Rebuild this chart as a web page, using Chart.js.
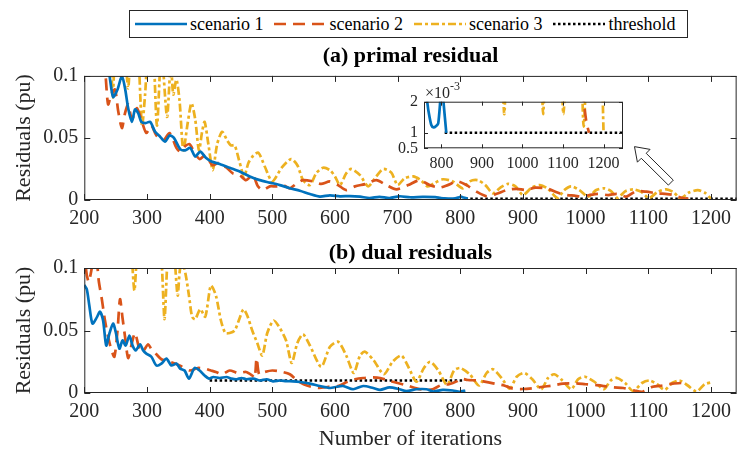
<!DOCTYPE html>
<html>
<head>
<meta charset="utf-8">
<script src="https://cdn.jsdelivr.net/npm/chart.js@4.4.1/dist/chart.umd.min.js"></script>
<style>
  html, body { margin: 0; padding: 0; background: #fff; width: 738px; height: 452px; overflow: hidden; }
  canvas { position: absolute; }
  #legend {
    position: absolute; left: 129px; top: 10px; width: 552px; height: 26px;
    border: 1px solid #262626; background: #fff;
    display: flex; align-items: center; padding-left: 5px; box-sizing: content-box;
    font: 18px 'Liberation Serif', 'Times New Roman', serif; color: #000;
  }
  #legend .it { display: flex; align-items: center; margin-right: 11px; white-space: nowrap; }
  #legend svg { margin-right: 3px; }
</style>
</head>
<body>
<canvas id="chart-a" width="738" height="452" style="left:0;top:0"></canvas>
<canvas id="chart-b" width="738" height="452" style="left:0;top:0"></canvas>
<canvas id="chart-zoom" width="290" height="120" style="left:370px;top:70px"></canvas>
<div id="legend"></div>

<script>
'use strict';
/* Residuales primal / dual — tres escenarios + umbral */

// ── Datos ([iteración, residual]) ─────────────────────
const xTicks = [200, 300, 400, 500, 600, 700, 800, 900, 1000, 1100, 1200];
const yTicks = [0, 0.05, 0.1];
const zoomXTicks = [800, 900, 1000, 1100, 1200];
const zoomYTicks = [0.0005, 0.001, 0.002];
const seriesNames = ['scenario 1', 'scenario 2', 'scenario 3', 'threshold'];

// (a) primal residual
const primal1 = [[200,0.2],[230,0.13],[240,0.101],[246,0.083],[253,0.089],[260,0.1],[265,0.09],[270,0.074],[276,0.063],[281,0.073],
  [286,0.07],[291,0.063],[298,0.062],[305,0.063],[313,0.055],[321,0.051],[329,0.047],[336,0.052],[343,0.05],[353,0.041],
  [361,0.04],[369,0.042],[377,0.035],[385,0.039],[394,0.034],[403,0.031],[416,0.029],[432,0.026],[448,0.023],[464,0.019],
  [480,0.016],[496,0.014],[512,0.012],[528,0.0095],[544,0.0075],[560,0.0048],[576,0.0027],[592,0.0038],[608,0.003],[624,0.0032],
  [640,0.0027],[655,0.0016],[671,0.0025],[687,0.0016],[703,0.003],[720,0.0022],[740,0.0025],[760,0.0023],[768,0.0017],[775,0.00125],
  [781,0.00117],[787,0.00122],[792,0.0013],[797,0.002],[801,0.0027],[805,0.002],[812,0.001]];
const primal2 = [[200,0.25],[228,0.13],[234,0.1],[238,0.077],[243,0.085],[249,0.089],[254,0.072],[260,0.058],[265,0.07],[270,0.077],
  [276,0.065],[284,0.074],[292,0.063],[299,0.054],[307,0.06],[315,0.052],[326,0.048],[336,0.054],[347,0.042],[353,0.039],
  [360,0.043],[368,0.045],[376,0.038],[384,0.033],[393,0.036],[405,0.028],[414,0.03],[427,0.026],[437,0.0215],[448,0.02],
  [458,0.016],[469,0.02],[477,0.011],[485,0.008],[496,0.011],[506,0.011],[517,0.012],[528,0.0094],[538,0.013],[549,0.016],
  [565,0.015],[578,0.013],[592,0.015],[605,0.012],[618,0.008],[632,0.011],[650,0.013],[666,0.016],[682,0.012],[698,0.0086],
  [717,0.012],[735,0.016],[751,0.012],[767,0.01],[780,0.012],[796,0.015],[810,0.012],[826,0.0067],[842,0.003],[858,0.005],
  [874,0.008],[890,0.009],[905,0.008],[920,0.01],[940,0.009],[955,0.006],[970,0.004],[982,0.0035],[995,0.0027],[1006,0.004],
  [1020,0.005],[1036,0.004],[1050,0.005],[1065,0.0027],[1080,0.007],[1097,0.0067],[1113,0.0054],[1130,0.0048],[1140,0.004],[1150,0.0022],
  [1157,0.0014],[1164,0.001]];
const primal3 = [[200,0.3],[238,0.2],[245,0.083],[251,0.14],[258,0.16],[264,0.13],[270,0.09],[276,0.14],[283,0.15],[292,0.06],
  [297,0.085],[303,0.13],[309,0.13],[316,0.06],[323,0.12],[332,0.067],[338,0.11],[342,0.085],[347,0.097],[352,0.08],
  [358,0.04],[365,0.062],[371,0.078],[377,0.065],[383,0.04],[388,0.055],[392,0.063],[398,0.045],[405,0.024],[412,0.045],
  [420,0.055],[428,0.048],[434,0.044],[440,0.044],[447,0.032],[455,0.019],[462,0.03],[470,0.036],[478,0.038],[488,0.027],
  [500,0.015],[515,0.026],[530,0.033],[540,0.028],[549,0.016],[560,0.012],[570,0.0215],[581,0.026],[592,0.024],[600,0.019],
  [608,0.012],[618,0.0215],[626,0.025],[640,0.02],[653,0.011],[666,0.019],[677,0.025],[690,0.022],[700,0.012],[711,0.0175],
  [725,0.019],[737,0.016],[748,0.011],[760,0.014],[772,0.0167],[788,0.015],[804,0.0094],[815,0.015],[828,0.016],[840,0.012],
  [852,0.0054],[864,0.01],[876,0.013],[888,0.011],[900,0.004],[914,0.01],[927,0.012],[940,0.009],[955,0.0016],[966,0.008],
  [977,0.011],[990,0.008],[1004,0.0027],[1017,0.008],[1030,0.0094],[1041,0.007],[1051,0.0016],[1063,0.007],[1076,0.0086],[1089,0.0065],
  [1101,0.0016],[1115,0.0065],[1129,0.0086],[1141,0.006],[1151,0.0012],[1165,0.006],[1179,0.008],[1190,0.006],[1200,0.001]];
const primalThr = [[808,0.001],[1250,0.001]];

// (b) dual residuals
const dual1 = [[200,0.0864],[204,0.083],[208,0.07],[213,0.0555],[220,0.0605],[225,0.065],[230,0.058],[235,0.038],[240,0.0475],[246,0.0555],
  [250,0.049],[256,0.0355],[261,0.042],[266,0.038],[272,0.046],[277,0.038],[282,0.034],[289,0.039],[294,0.034],[299,0.0315],
  [307,0.029],[315,0.022],[323,0.0235],[331,0.0275],[339,0.022],[347,0.0235],[353,0.0195],[360,0.018],[367,0.0115],[376,0.02],
  [384,0.018],[392,0.014],[399,0.0115],[406,0.0128],[416,0.012],[427,0.0128],[435,0.0115],[443,0.011],[451,0.012],[459,0.011],
  [470,0.0115],[480,0.01],[491,0.011],[501,0.0093],[512,0.01],[522,0.0095],[533,0.0093],[544,0.0088],[560,0.0075],[576,0.0056],
  [592,0.004],[603,0.005],[613,0.0056],[629,0.003],[645,0.0056],[661,0.004],[672,0.0025],[687,0.0045],[703,0.003],[714,0.0015],
  [730,0.003],[746,0.003],[757,0.0012],[772,0.0025],[788,0.002],[799,0.001],[808,0.002]];
const dual2 = [[200,0.13],[203,0.098],[207,0.089],[212,0.1],[218,0.115],[223,0.09],[228,0.075],[233,0.058],[238,0.045],[243,0.035],
  [248,0.029],[253,0.05],[257,0.075],[261,0.06],[265,0.045],[270,0.028],[276,0.04],[281,0.048],[288,0.035],[293,0.033],
  [302,0.039],[307,0.035],[315,0.031],[323,0.027],[336,0.025],[352,0.022],[368,0.018],[381,0.02],[392,0.0195],[402,0.018],
  [410,0.0168],[420,0.015],[432,0.018],[445,0.016],[458,0.0168],[468,0.014],[472,0.012],[475,0.028],[479,0.015],[488,0.0168],
  [500,0.018],[515,0.017],[528,0.015],[540,0.01],[550,0.007],[562,0.005],[575,0.004],[590,0.005],[605,0.0055],[620,0.009],
  [632,0.011],[645,0.012],[660,0.0125],[672,0.012],[688,0.0095],[700,0.008],[715,0.006],[728,0.004],[742,0.0025],[756,0.003],
  [770,0.0065],[782,0.007],[795,0.0095],[800,0.0115],[812,0.0104],[828,0.01],[845,0.0085],[860,0.007],[870,0.006],[884,0.0035],
  [900,0.0032],[915,0.0038],[929,0.0048],[948,0.006],[964,0.0075],[985,0.0077],[1000,0.007],[1015,0.0065],[1030,0.0055],[1044,0.0045],
  [1060,0.004],[1078,0.002],[1091,0.001],[1107,0.005],[1123,0.006],[1139,0.0075],[1153,0.008],[1160,0.008]];
const dual3 = [[200,0.3],[270,0.2],[276,0.11],[280,0.082],[285,0.12],[300,0.2],[318,0.15],[324,0.1],[328,0.059],[332,0.1],
  [338,0.15],[344,0.11],[349,0.078],[353,0.1],[358,0.102],[362,0.094],[367,0.078],[372,0.061],[377,0.059],[385,0.067],
  [393,0.061],[402,0.086],[410,0.078],[418,0.058],[425,0.048],[432,0.048],[440,0.05],[448,0.06],[454,0.067],[460,0.062],
  [468,0.05],[476,0.04],[484,0.03],[492,0.048],[502,0.058],[512,0.052],[522,0.042],[531,0.024],[540,0.04],[549,0.047],
  [560,0.038],[578,0.021],[592,0.037],[605,0.041],[618,0.03],[630,0.016],[640,0.03],[648,0.033],[662,0.026],[678,0.015],
  [692,0.025],[706,0.03],[718,0.02],[730,0.009],[742,0.02],[752,0.025],[765,0.018],[779,0.0065],[790,0.018],[800,0.02],
  [815,0.015],[830,0.006],[842,0.016],[852,0.019],[866,0.012],[879,0.0035],[890,0.013],[902,0.016],[915,0.011],[929,0.003],
  [940,0.012],[950,0.015],[963,0.01],[977,0.003],[988,0.011],[999,0.013],[1014,0.009],[1029,0.003],[1040,0.01],[1050,0.012],
  [1063,0.008],[1076,0.0015],[1090,0.008],[1102,0.01],[1114,0.007],[1126,0.0025],[1138,0.008],[1150,0.01],[1163,0.006],[1177,0.0012],
  [1190,0.007],[1200,0.0085]];
const dualThr = [[400,0.01],[805,0.01]];

// flecha que señala el recuadro (en unidades de datos del gráfico a)
const arrowTail = [1136, 0.014];
const arrowHead = [1078, 0.043];

// ── Estilo ───────────────────────────────────────────
const SERIF = "'Liberation Serif', 'Times New Roman', serif";
const INK = '#262626';
const estilos = [
  { color: '#0072BD', dash: [], width: 2.7, tension: 0.25 },
  { color: '#D95319', dash: [12, 7], width: 2.7, tension: 0.25 },
  { color: '#EDB120', dash: [8, 3, 3, 3], width: 2.7, tension: 0.25 },
  { color: '#000000', dash: [2.5, 2.5], width: 2.6, tension: 0 },
];

Chart.defaults.font.family = SERIF;
Chart.defaults.color = INK;

const pts = arr => arr.map(([x, y]) => ({ x, y }));
const datasets = series => series.map((s, i) => ({
  label: seriesNames[i],
  data: pts(s),
  borderColor: estilos[i].color,
  borderWidth: estilos[i].width,
  borderDash: estilos[i].dash,
  tension: estilos[i].tension,
  pointRadius: 0,
  fill: false,
  clip: 0,
}));

const fmtY = v => String(+v.toFixed(4));
const fmtMil = v => String(+(v * 1000).toFixed(2));

function ejeX(min, max, vals, size, height, pad, titulo) {
  return {
    type: 'linear', min, max,
    afterBuildTicks: s => { s.ticks = vals.map(value => ({ value })); },
    afterFit: s => { s.height = height; },
    grid: { display: false, drawTicks: false }, border: { display: false },
    ticks: { font: { size }, color: INK, padding: pad, maxRotation: 0, autoSkip: false, callback: v => String(v) },
    title: titulo
      ? { display: true, text: titulo, font: { size: 22 }, color: INK, padding: { top: 0, bottom: 0 } }
      : { display: false },
  };
}

function ejeY(min, max, vals, fmt, size, width, titulo) {
  return {
    min, max,
    afterBuildTicks: s => { s.ticks = vals.map(value => ({ value })); },
    afterFit: s => { s.width = width; },
    grid: { display: false, drawTicks: false }, border: { display: false },
    ticks: { font: { size }, color: INK, padding: 6, autoSkip: false, callback: fmt },
    title: titulo
      ? { display: true, text: titulo, font: { size: 22 }, color: INK, padding: { top: 11, bottom: 0 } }
      : { display: false },
  };
}

// Caja estilo MATLAB con marcas hacia adentro en los cuatro lados
const cajaPlugin = {
  id: 'caja',
  beforeDatasetsDraw(chart, args, opts) {
    if (!opts.fondo) return;
    const a = chart.chartArea;
    chart.ctx.save();
    chart.ctx.fillStyle = '#fff';
    chart.ctx.fillRect(a.left, a.top, a.width, a.height);
    chart.ctx.restore();
  },
  afterDatasetsDraw(chart, args, opts) {
    const { ctx, chartArea: a, scales: { x, y } } = chart;
    const L = opts.largo || 6;
    ctx.save();
    ctx.strokeStyle = INK;
    ctx.lineWidth = 1;
    ctx.strokeRect(a.left + 0.5, a.top + 0.5, a.width - 1, a.height - 1);
    ctx.beginPath();
    x.ticks.forEach(t => {
      const px = Math.round(x.getPixelForValue(t.value)) + 0.5;
      ctx.moveTo(px, a.bottom); ctx.lineTo(px, a.bottom - L);
      ctx.moveTo(px, a.top); ctx.lineTo(px, a.top + L);
    });
    y.ticks.forEach(t => {
      const py = Math.round(y.getPixelForValue(t.value)) + 0.5;
      ctx.moveTo(a.left, py); ctx.lineTo(a.left + L, py);
      ctx.moveTo(a.right, py); ctx.lineTo(a.right - L, py);
    });
    ctx.stroke();
    ctx.restore();
  },
};

// Flecha hueca hacia el recuadro ampliado
const flechaPlugin = {
  id: 'flecha',
  afterDraw(chart) {
    const { ctx, scales: { x, y } } = chart;
    const x0 = x.getPixelForValue(arrowTail[0]), y0 = y.getPixelForValue(arrowTail[1]);
    const x1 = x.getPixelForValue(arrowHead[0]), y1 = y.getPixelForValue(arrowHead[1]);
    const len = Math.hypot(x1 - x0, y1 - y0);
    const ux = (x1 - x0) / len, uy = (y1 - y0) / len, nx = -uy, ny = ux;
    const hw = 3.5, hh = 9, hl = 13;
    const bx = x1 - ux * hl, by = y1 - uy * hl;
    ctx.save();
    ctx.beginPath();
    ctx.moveTo(x0 + nx * hw, y0 + ny * hw);
    ctx.lineTo(bx + nx * hw, by + ny * hw);
    ctx.lineTo(bx + nx * hh, by + ny * hh);
    ctx.lineTo(x1, y1);
    ctx.lineTo(bx - nx * hh, by - ny * hh);
    ctx.lineTo(bx - nx * hw, by - ny * hw);
    ctx.lineTo(x0 - nx * hw, y0 - ny * hw);
    ctx.closePath();
    ctx.fillStyle = '#fff';
    ctx.fill();
    ctx.strokeStyle = INK;
    ctx.lineWidth = 1;
    ctx.stroke();
    ctx.restore();
  },
};

// Multiplicador ×10^-3 del recuadro
const exponentePlugin = {
  id: 'exponente',
  afterDraw(chart) {
    const { ctx, chartArea: a } = chart;
    ctx.save();
    ctx.fillStyle = INK;
    ctx.textBaseline = 'alphabetic';
    ctx.font = `16px ${SERIF}`;
    const base = '×10';
    ctx.fillText(base, a.left + 1, a.top - 4);
    const w = ctx.measureText(base).width;
    ctx.font = `12px ${SERIF}`;
    ctx.fillText('-3', a.left + 1 + w, a.top - 12);
    ctx.restore();
  },
};

const comunes = {
  responsive: false, animation: false, devicePixelRatio: 1,
};

// ── (a) primal residual ─────────────────────────────
new Chart(document.getElementById('chart-a'), {
  type: 'line',
  data: { datasets: datasets([primal1, primal2, primal3, primalThr]) },
  options: {
    ...comunes,
    layout: { padding: { top: 0, left: 0, right: 0.5, bottom: 452 - 200 - 48 } },
    plugins: {
      legend: { display: false }, tooltip: { enabled: false },
      title: {
        display: true, text: '(a) primal residual', fullSize: false, color: '#000',
        font: { size: 22, weight: 'bold' }, padding: { top: 43, bottom: 6.5 },
      },
      caja: { largo: 6 },
    },
    scales: {
      x: ejeX(200, 1241, xTicks, 20, 48, 7),
      y: ejeY(0, 0.1, yTicks, fmtY, 20, 84.3, 'Residuals (pu)'),
    },
  },
  plugins: [cajaPlugin, flechaPlugin],
});

// ── (b) dual residuals ──────────────────────────────
new Chart(document.getElementById('chart-b'), {
  type: 'line',
  data: { datasets: datasets([dual1, dual2, dual3, dualThr]) },
  options: {
    ...comunes,
    layout: { padding: { top: 0, left: 0, right: 0.5, bottom: 0 } },
    plugins: {
      legend: { display: false }, tooltip: { enabled: false },
      title: {
        display: true, text: '(b) dual residuals', fullSize: false, color: '#000',
        font: { size: 22, weight: 'bold' }, padding: { top: 240, bottom: 1.6 },
      },
      caja: { largo: 6 },
    },
    scales: {
      x: ejeX(200, 1241, xTicks, 20, 59, 7, 'Number of iterations'),
      y: ejeY(0, 0.1, yTicks, fmtY, 20, 84.3, 'Residuals (pu)'),
    },
  },
  plugins: [cajaPlugin],
});

// ── Recuadro ampliado de (a) ────────────────────────
new Chart(document.getElementById('chart-zoom'), {
  type: 'line',
  data: { datasets: datasets([primal1, primal2, primal3, primalThr]) },
  options: {
    ...comunes,
    layout: { padding: { top: 31.7, left: 0, right: 37, bottom: 0 } },
    plugins: {
      legend: { display: false }, tooltip: { enabled: false },
      caja: { largo: 4, fondo: true },
    },
    scales: {
      x: ejeX(757, 1248, zoomXTicks, 16, 41.7, 6),
      y: ejeY(0.0005, 0.002, zoomYTicks, fmtMil, 16, 54, null),
    },
  },
  plugins: [cajaPlugin, exponentePlugin],
});

// ── Leyenda ─────────────────────────────────────────
document.getElementById('legend').innerHTML = seriesNames.map((n, i) => `
  <span class="it">
    <svg width="52" height="10"><line x1="0" y1="5" x2="52" y2="5" stroke="${estilos[i].color}"
      stroke-width="${estilos[i].width}" stroke-dasharray="${estilos[i].dash.join(' ') || 'none'}"/></svg>
    <span>${n}</span>
  </span>`).join('');
</script>
</body>
</html>
